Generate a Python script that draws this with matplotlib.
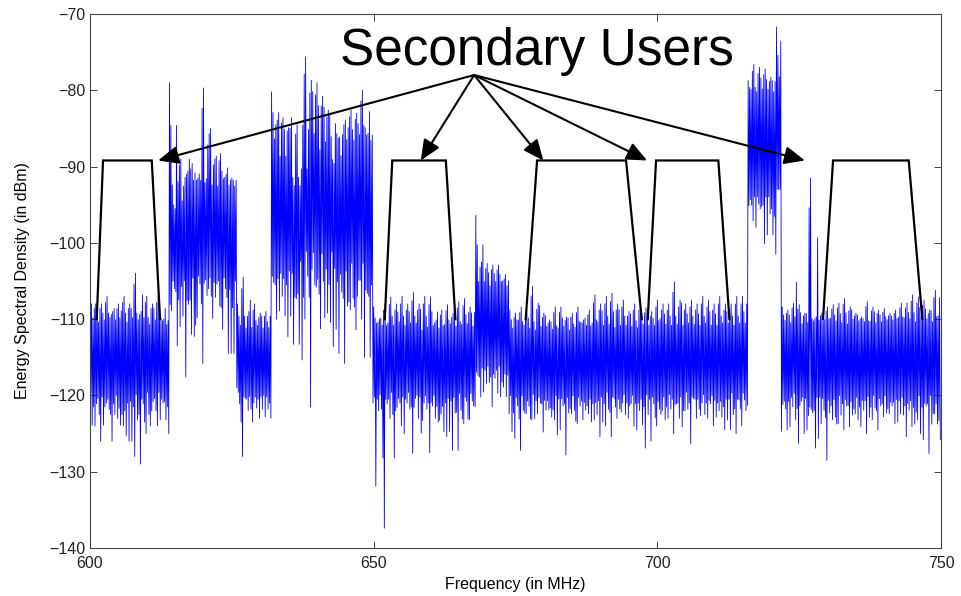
import matplotlib
matplotlib.use("Agg")
import matplotlib.pyplot as plt

plt.rcParams['font.family'] = ['Liberation Sans', 'DejaVu Sans']

# spectrum envelope, read per 1 MHz bin (600 ... 749 MHz)
freq_start = 600
upper = [
    -106, -108, -108, -107, -109, -108, -107, -108, -104, -109, -107, -108, -107, -110,
    -79, -95.5, -89, -91, -89.6, -91.5, -79.7, -85.7, -89, -88.3, -91, -91.5,
    -108, -104.5, -109, -108, -109.2, -109,
    -80.2, -83.9, -83.6, -84.9, -92.5, -92.5, -75.6, -78.7, -79, -80.8, -82.6, -89.6,
    -86.1, -83.9, -82.6, -83, -80, -85.6,
    -108.4, -110, -108, -107.1, -108, -107, -108, -106.5, -108, -107,
    -107.1, -110.1, -108.8, -108.1, -109.2, -107.7, -107.3, -108.4, -96.4, -102.5,
    -102.7, -102.9, -102.9, -104.7, -108.8, -109.2, -108.4, -109.2, -105.7, -107.9,
    -109.2, -110.1, -108.4, -108.4, -109.7, -109.2, -108.4, -110.1, -108.8, -106.8,
    -108, -107, -106.6, -108, -107.5, -109, -108, -108, -108.5, -109, -107.5, -108, -108,
    -105.1, -107.5, -108, -107.5, -108, -107, -107.5, -108, -107, -108, -108, -107, -107,
    -78.7, -76.6, -77, -77.2, -78.3, -71.7,
    -108.4, -108.8, -107.9, -108.1, -109.2, -91.5, -109.7, -109.2, -108.4, -108.1,
    -107.9, -107.3, -108.4, -109.2, -109.7, -107.7, -108.4, -108.8, -108.6, -109.2,
    -108.8, -107.9, -107.9, -106.8, -107.1, -107.5, -108.8, -106.2,
]
lower = [
    -124, -126, -121, -126, -123, -124, -126, -128, -129, -125, -122, -124, -121, -125,
    -106, -111, -117.6, -112, -109.8, -115.8, -106, -105.2, -108.3, -106, -114.5, -119,
    -128, -122, -121, -123, -122.8, -123,
    -110, -107, -112.3, -113.3, -113.3, -110, -121.5, -105.8, -101.4, -109.2, -113.6, -114.5,
    -115.8, -108.8, -111.4, -110, -106.6, -121,
    -122, -137.4, -123, -122, -124, -121, -127.6, -123, -121, -127.5,
    -123, -122.4, -125.4, -127.2, -127.2, -123.7, -123.2, -121.5, -120.2, -118.4,
    -121.5, -119.7, -118.9, -122.4, -125.6, -127.2, -122.4, -123.2, -122.4, -124.8,
    -121.9, -123.2, -124.5, -127.8, -122.4, -123.7, -123.2, -122.4, -123.2, -125.4,
    -124, -125.4, -123, -121, -123, -124, -122, -126.9, -126, -124, -122, -123, -125,
    -123, -122, -126.3, -123, -121, -123, -124, -122, -124.5, -124.5, -125, -124, -121.3,
    -97.1, -94.9, -100.1, -96.2, -101.5, -124.7,
    -124.5, -121.5, -126.3, -125.0, -121.5, -126.9, -123.7, -128.5, -123.2, -123.7,
    -124.5, -124.1, -122.4, -124.1, -125.0, -123.2, -124.5, -122.8, -122.4, -123.7,
    -122.4, -125.4, -124.1, -123.2, -125.8, -127.6, -122.4, -125.8,
]

# dense core of each band
band_start = [600, 614, 626, 632, 650, 668, 674, 716, 721, 722]
band_core_hi = [-111, -93, -112, -87, -112, -106, -112, -81, -81, -111]
band_core_lo = [-119, -104, -119, -101, -119, -115, -119, -93, -93, -119]

# trapezoids: bottom-left, top-left, top-right, bottom-right (MHz)
traps = [
    [601.18, 602.29, 610.88, 612.34],
    [651.95, 653.27, 662.72, 664.40],
    [676.79, 678.80, 694.48, 697.25],
    [698.30, 699.77, 710.75, 712.70],
    [729.20, 730.97, 744.31, 746.70],
]
trap_top = -89.2
trap_bottom = -110.0

label_text = "Secondary Users"
label_pos = (678.8, -76.7)
arrow_origin = (667.7, -78.0)
arrow_tips = [612.0, 658.3, 679.9, 698.2, 726.0]
arrow_tip_y = -89.2


def band_of(f):
    k = 0
    for i, s in enumerate(band_start):
        if f >= s:
            k = i
    return k


n = len(upper)
band_idx = [band_of(freq_start + i) for i in range(n)]


def neighbour(i, d):
    # index of a nearby bin in the same band (falls back to i itself)
    j = i + d
    if 0 <= j < n and band_idx[j] == band_idx[i]:
        return j
    return i


# trace each bin: strokes between the core and the envelope of nearby bins
strokes = [('u', 0, 1.0), ('l', 2, 0.3), ('u', -1, 0.6), ('l', 1, 0.7),
           ('u', 3, 0.3), ('l', -2, 0.5), ('u', 1, 0.8), ('l', 0, 1.0)]
xs, ys = [], []
for i in range(n):
    f = freq_start + i
    b = band_idx[i]
    hi, lo = band_core_hi[b], band_core_lo[b]
    for k, (side, d, w) in enumerate(strokes):
        j = neighbour(i, d)
        if side == 'u':
            v = hi + w * (upper[j] - hi)
        elif j == i and w < 1.0 and lower[i] < lo - 20:
            v = lo  # single drop at the edge of the strong band
        else:
            v = lo + w * (lower[j] - lo)
        xs.append(f + k / len(strokes))
        ys.append(v)

fig = plt.figure(figsize=(9.62, 5.96), dpi=100)
ax = fig.add_axes([0.0936, 0.0805, 0.8846, 0.896])

ax.plot(xs, ys, color='#0000ff', lw=0.6)

for t in traps:
    ax.plot(t, [trap_bottom, trap_top, trap_top, trap_bottom], color='black', lw=1.6,
            solid_joinstyle='miter')

for tip in arrow_tips:
    ax.annotate('', xy=(tip, arrow_tip_y), xytext=arrow_origin,
                arrowprops=dict(arrowstyle='-|>,head_length=0.5,head_width=0.22',
                                mutation_scale=25, color='black', lw=1.5,
                                shrinkA=0, shrinkB=0))

ax.text(label_pos[0], label_pos[1], label_text, fontsize=37, ha='center', va='baseline')

ax.set_xlim(600, 750)
ax.set_ylim(-140, -70)
ax.set_xticks([600, 650, 700, 750])
ax.set_yticks(range(-140, -69, 10))
ax.tick_params(direction='in', top=True, right=True, length=5, width=0.6,
               labelsize=11.5, colors='#222222')
ax.tick_params(axis='x', pad=6)
for sp in ax.spines.values():
    sp.set_linewidth(0.8)
    sp.set_color('#444444')

ax.set_xlabel('Frequency (in MHz)', fontsize=11.5, labelpad=4)
ax.set_ylabel('Energy Spectral Density (in dBm)', fontsize=11.5, labelpad=14)

fig.savefig('out.png', dpi=100)
